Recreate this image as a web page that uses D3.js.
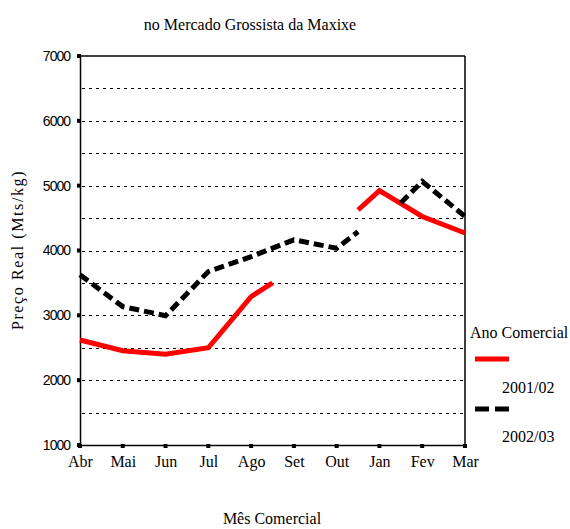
<!DOCTYPE html>
<html>
<head>
<meta charset="utf-8">
<script src="https://cdn.jsdelivr.net/npm/d3@7"></script>
<style>
  body { margin: 0; background: #fff; }
  text { fill: #000; }
</style>
</head>
<body>
<div id="chart"></div>
<script>
// months of the commercial year, shown at integer positions
let months = ["Abr", "Mai", "Jun", "Jul", "Ago", "Set", "Out", "Jan", "Fev", "Mar"];
let yTicks = [1000, 2000, 3000, 4000, 5000, 6000, 7000];
let gridValues = [1500, 2000, 2500, 3000, 3500, 4000, 4500, 5000, 5500, 6000, 6500];

// each series is drawn in pieces; positions are month indexes (halves where the line stops)
let pos2001a = [0, 1, 2, 3, 4, 4.5];
let val2001a = [2620, 2455, 2400, 2500, 3290, 3500];
let pos2001b = [6.5, 7, 8, 9];
let val2001b = [4625, 4925, 4525, 4270];

let pos2002a = [0, 1, 2, 3, 4, 5, 6, 6.5];
let val2002a = [3625, 3135, 2995, 3675, 3905, 4165, 4035, 4290];
let pos2002b = [7.5, 8, 9];
let val2002b = [4735, 5065, 4525];

let legendTitle = "Ano Comercial";
let seriesNames = ["2001/02", "2002/03"];

function graph(id) {
    let width = 570, height = 529;
    let left = 80, right = 465, top = 56, bottom = 445;
    let serif = "'Liberation Serif', 'Times New Roman', serif";

    let svg = d3.select(id).append("svg")
        .attr("width", width)
        .attr("height", height);

    let x = d3.scaleLinear().domain([0, months.length - 1]).range([left, right]);
    let y = d3.scaleLinear().domain([1000, 7000]).range([bottom, top]);

    // dotted grid
    svg.selectAll(".grid")
        .data(gridValues)
        .enter()
        .append("line")
        .attr("x1", left + 2)
        .attr("x2", right)
        .attr("y1", d => Math.round(y(d)) + 0.5)
        .attr("y2", d => Math.round(y(d)) + 0.5)
        .attr("stroke", "#000")
        .attr("stroke-width", 1)
        .attr("stroke-dasharray", "3,4");

    // frame: top and right
    svg.append("line")
        .attr("x1", left).attr("x2", right)
        .attr("y1", y(7000)).attr("y2", y(7000))
        .attr("stroke", "#000").attr("stroke-width", 1.5);
    svg.append("line")
        .attr("x1", right).attr("x2", right)
        .attr("y1", y(7000)).attr("y2", bottom)
        .attr("stroke", "#000").attr("stroke-width", 1.5);

    // axes
    let yAxis = d3.axisLeft(y).tickValues(yTicks).tickSize(0).tickPadding(10)
        .tickFormat(d3.format("d"));
    let gy = svg.append("g").attr("transform", `translate(${left},0)`).call(yAxis);
    gy.select(".domain").attr("stroke-width", 1.5);
    gy.selectAll("text")
        .style("font-family", "'Liberation Sans', Arial, sans-serif")
        .style("font-size", "14px")
        .style("letter-spacing", "-1px");

    let xAxis = d3.axisBottom(x).tickValues(d3.range(months.length)).tickSize(0).tickPadding(11)
        .tickFormat(i => months[i]);
    let gx = svg.append("g").attr("transform", `translate(0,${bottom})`).call(xAxis);
    gx.select(".domain").attr("stroke-width", 1.5);
    gx.selectAll("text")
        .style("font-family", serif)
        .style("font-size", "16px");

    // square tick marks
    svg.selectAll(".ytick")
        .data(yTicks)
        .enter()
        .append("rect")
        .attr("x", left - 3)
        .attr("y", d => y(d) - 2)
        .attr("width", 4)
        .attr("height", 4)
        .attr("fill", "#000");
    svg.selectAll(".xtick")
        .data(d3.range(months.length))
        .enter()
        .append("rect")
        .attr("x", d => x(d) - 2)
        .attr("y", bottom - 1)
        .attr("width", 4)
        .attr("height", 4)
        .attr("fill", "#000");

    // lines
    let line = d3.line().x(d => x(d[0])).y(d => y(d[1]));
    let pieces = [
        { pos: pos2001a, val: val2001a, color: "#ff0000", dash: null },
        { pos: pos2001b, val: val2001b, color: "#ff0000", dash: null },
        { pos: pos2002a, val: val2002a, color: "#000", dash: "10,5" },
        { pos: pos2002b, val: val2002b, color: "#000", dash: "10,5" }
    ];
    pieces.forEach(p => {
        svg.append("path")
            .datum(p.pos.map((d, i) => [d, p.val[i]]))
            .attr("d", line)
            .attr("fill", "none")
            .attr("stroke", p.color)
            .attr("stroke-width", 5)
            .attr("stroke-dasharray", p.dash);
    });

    // title and axis labels
    svg.append("text")
        .attr("x", 250).attr("y", 30)
        .attr("text-anchor", "middle")
        .style("font-family", serif).style("font-size", "16px")
        .text("no Mercado Grossista da Maxixe");
    svg.append("text")
        .attr("x", 272).attr("y", 524)
        .attr("text-anchor", "middle")
        .style("font-family", serif).style("font-size", "16px")
        .text("Mês Comercial");
    svg.append("text")
        .attr("transform", "translate(23,250) rotate(-90)")
        .attr("text-anchor", "middle")
        .style("font-family", serif).style("font-size", "16px")
        .style("letter-spacing", "1.6px")
        .text("Preço Real (Mts/kg)");

    // legend
    svg.append("text")
        .attr("x", 470).attr("y", 338)
        .style("font-family", serif).style("font-size", "16px")
        .text(legendTitle);
    let legendY = [359, 409];
    let legendTextY = [393, 442];
    [["#ff0000", null], ["#000", "14,6"]].forEach((s, i) => {
        svg.append("line")
            .attr("x1", 475).attr("x2", 509)
            .attr("y1", legendY[i]).attr("y2", legendY[i])
            .attr("stroke", s[0])
            .attr("stroke-width", 5)
            .attr("stroke-dasharray", s[1]);
        svg.append("text")
            .attr("x", 502).attr("y", legendTextY[i])
            .style("font-family", serif).style("font-size", "16px")
            .text(seriesNames[i]);
    });
}

graph("#chart");
</script>
</body>
</html>
